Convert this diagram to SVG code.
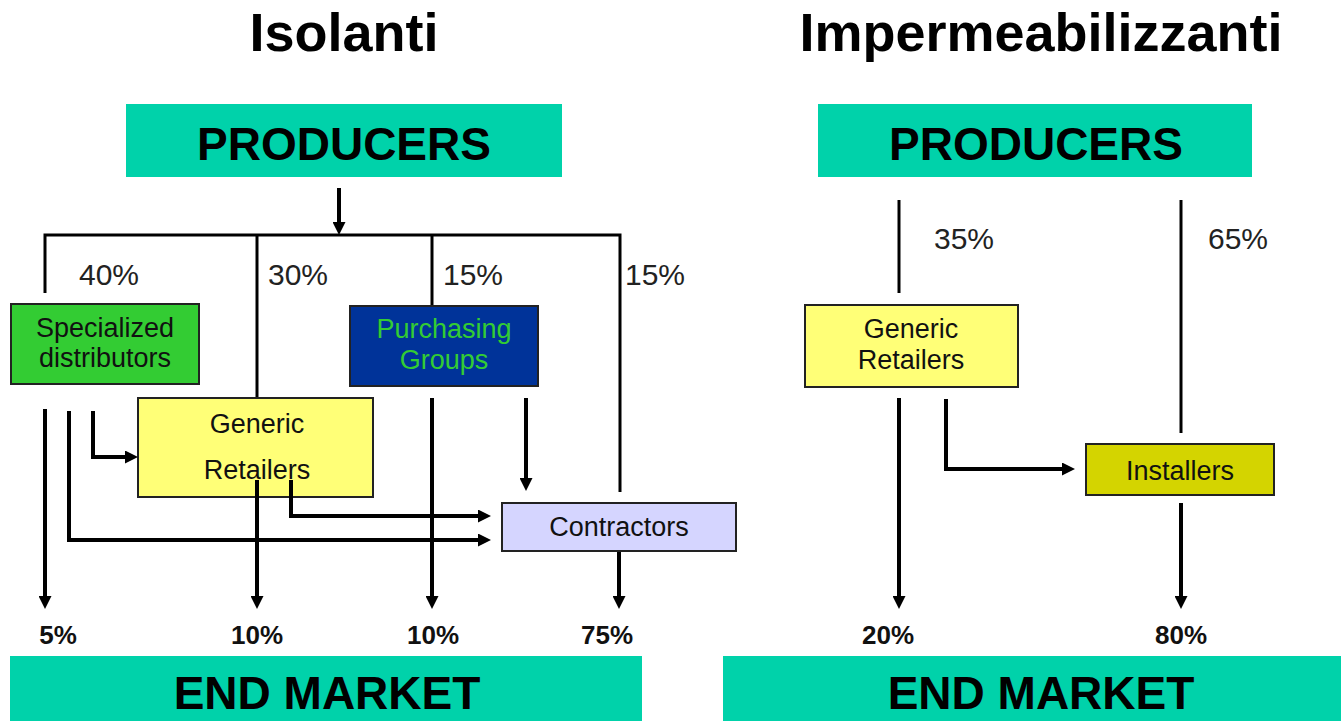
<svg xmlns="http://www.w3.org/2000/svg" width="1341" height="721" viewBox="0 0 1341 721">
<style>
text{font-family:"Liberation Sans",Arial,sans-serif;}
.title{font-size:54px;font-weight:bold;fill:#000;text-anchor:middle;}
.band{fill:#00D2AA;}
.bandtxt{font-size:46px;font-weight:bold;fill:#000;text-anchor:middle;}
.box{stroke:#222;stroke-width:2;}
.ntxt{font-size:27px;fill:#111;text-anchor:middle;}
.pct{font-size:30px;fill:#222;}
.bpct{font-size:26px;font-weight:bold;fill:#111;text-anchor:middle;}
.thin{fill:none;stroke:#000;stroke-width:3;}
.arr{fill:none;stroke:#000;stroke-width:4;marker-end:url(#ah);}
</style>
<defs>
<marker id="ah" viewBox="0 0 13 13" markerWidth="13" markerHeight="13" markerUnits="userSpaceOnUse" refX="4" refY="6.5" orient="auto">
<path d="M0,0 L13,6.5 L0,13 z" fill="#000"/>
</marker>
</defs>
<rect width="1341" height="721" fill="#fff"/>

<text class="title" x="344" y="51">Isolanti</text>
<text class="title" x="1041" y="51">Impermeabilizzanti</text>

<g id="producers-left">
<rect class="band" x="126" y="104" width="436" height="73"/>
<text class="bandtxt" x="344" y="160">PRODUCERS</text>
</g>
<g id="producers-right">
<rect class="band" x="818" y="104" width="434" height="73"/>
<text class="bandtxt" x="1036" y="160">PRODUCERS</text>
</g>

<g id="labels-top">
<text class="pct" x="79" y="285">40%</text>
<text class="pct" x="268" y="285">30%</text>
<text class="pct" x="443" y="285">15%</text>
<text class="pct" x="625" y="285">15%</text>
<text class="pct" x="934" y="249">35%</text>
<text class="pct" x="1208" y="249">65%</text>
</g>

<g id="specialized-distributors">
<rect class="box" x="11" y="304" width="188" height="80" fill="#3C3"/>
<text class="ntxt" x="105" y="337">Specialized</text>
<text class="ntxt" x="105" y="367">distributors</text>
</g>

<g id="purchasing-groups">
<rect class="box" x="350" y="306" width="188" height="80" fill="#003399"/>
<text class="ntxt" x="444" y="338" style="fill:#33CC33">Purchasing</text>
<text class="ntxt" x="444" y="369" style="fill:#33CC33">Groups</text>
</g>

<g id="generic-retailers-left">
<rect class="box" x="138" y="398" width="235" height="99" fill="#FFFF77"/>
<text class="ntxt" x="257" y="433">Generic</text>
<text class="ntxt" x="257" y="479">Retailers</text>
</g>

<g id="contractors">
<rect class="box" x="502" y="503" width="234" height="48" fill="#D5D5FF"/>
<text class="ntxt" x="619" y="536">Contractors</text>
</g>

<g id="generic-retailers-right">
<rect class="box" x="805" y="305" width="213" height="82" fill="#FFFF77"/>
<text class="ntxt" x="911" y="338">Generic</text>
<text class="ntxt" x="911" y="369">Retailers</text>
</g>

<g id="installers">
<rect class="box" x="1086" y="444" width="188" height="51" fill="#D4D400"/>
<text class="ntxt" x="1180" y="480">Installers</text>
</g>

<g id="labels-bottom">
<text class="bpct" x="58" y="644">5%</text>
<text class="bpct" x="257" y="644">10%</text>
<text class="bpct" x="433" y="644">10%</text>
<text class="bpct" x="607" y="644">75%</text>
<text class="bpct" x="888" y="644">20%</text>
<text class="bpct" x="1181" y="644">80%</text>
</g>

<g id="end-market-left">
<rect class="band" x="10" y="656" width="632" height="65"/>
<text class="bandtxt" x="327" y="709">END MARKET</text>
</g>
<g id="end-market-right">
<rect class="band" x="723" y="656" width="618" height="65"/>
<text class="bandtxt" x="1041" y="709">END MARKET</text>
</g>

<g id="connectors">
<path class="arr" d="M339,188 V226"/>
<path class="thin" d="M45,293 V235 H620 V492"/>
<path class="thin" d="M257,235 V397"/>
<path class="thin" d="M432,235 V305"/>
<path class="arr" d="M45,409 V600"/>
<path class="arr" d="M69,411 V540 H482"/>
<path class="arr" d="M93,411 V457 H129"/>
<path class="arr" d="M257,480 V600"/>
<path class="arr" d="M291,480 V516 H482"/>
<path class="arr" d="M432,398 V600"/>
<path class="arr" d="M526,398 V482"/>
<path class="arr" d="M619,552 V600"/>
<path class="thin" d="M899,200 V293"/>
<path class="thin" d="M1181,200 V433"/>
<path class="arr" d="M899,398 V600"/>
<path class="arr" d="M946,399 V469 H1066"/>
<path class="arr" d="M1181,503 V600"/>
</g>
</svg>
